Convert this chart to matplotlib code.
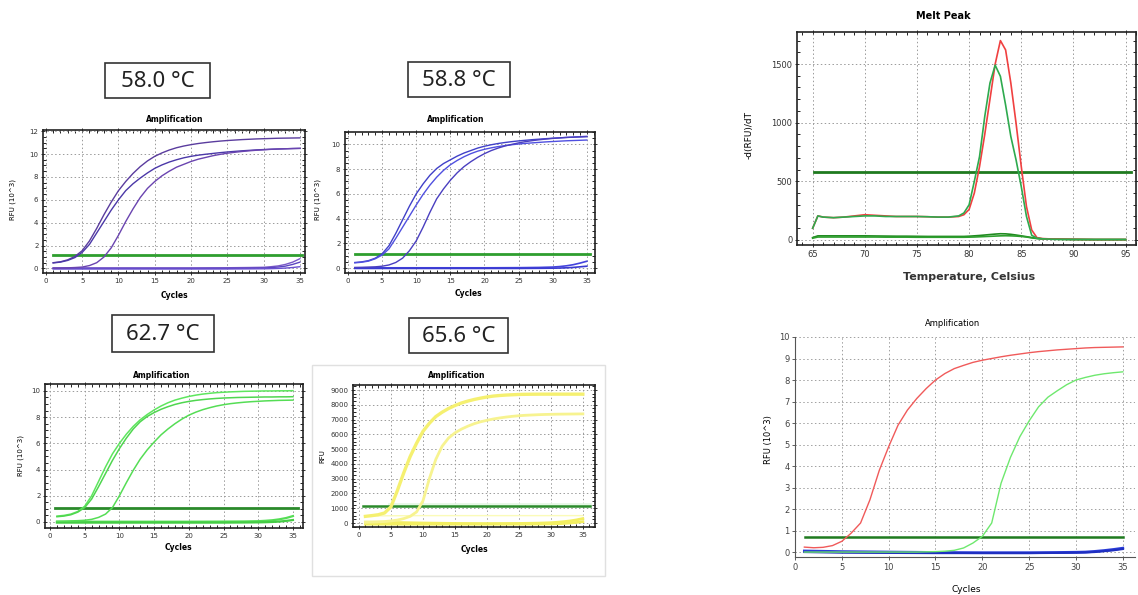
import matplotlib
matplotlib.use('Agg')
import matplotlib.pyplot as plt
from matplotlib.patches import Rectangle
from matplotlib.ticker import MultipleLocator

# ---- data ----
cycles = list(range(1, 36))
base_cycles = [1, 5, 10, 15, 20, 25, 28, 30, 31, 32, 33, 34, 35]

# 58.0 C
p1_a = [0.50, 0.58, 0.75, 1.05, 1.55, 2.4, 3.5, 4.7, 5.8, 6.8, 7.6, 8.3, 8.9, 9.4, 9.8, 10.1, 10.35, 10.55,
        10.7, 10.82, 10.92, 11.0, 11.07, 11.13, 11.18, 11.22, 11.26, 11.29, 11.32, 11.34, 11.36, 11.38, 11.39, 11.4, 11.41]
p1_b = [0.48, 0.55, 0.7, 0.95, 1.4, 2.1, 3.1, 4.1, 5.1, 6.0, 6.8, 7.4, 7.9, 8.35, 8.75, 9.05, 9.3, 9.5,
        9.67, 9.8, 9.9, 9.98, 10.05, 10.12, 10.18, 10.23, 10.28, 10.32, 10.36, 10.39, 10.42, 10.44, 10.46, 10.48, 10.49]
p1_c = [0.02, 0.03, 0.05, 0.08, 0.12, 0.25, 0.5, 1.0, 1.8, 2.9, 4.1, 5.2, 6.2, 7.0, 7.6, 8.1, 8.5, 8.85,
        9.1, 9.35, 9.55, 9.7, 9.85, 9.97, 10.07, 10.15, 10.22, 10.28, 10.33, 10.37, 10.41, 10.44, 10.46, 10.48, 10.5]
p1_base1 = [0.05, 0.05, 0.05, 0.05, 0.05, 0.06, 0.08, 0.1, 0.15, 0.22, 0.35, 0.55, 0.85]
p1_base2 = [0.0, 0.0, 0.0, 0.0, 0.0, 0.01, 0.02, 0.04, 0.07, 0.12, 0.2, 0.35, 0.55]
p1_base3 = [-0.05, -0.05, -0.05, -0.05, -0.05, -0.05, -0.04, -0.03, -0.02, 0.0, 0.03, 0.08, 0.15]
p1_thr = 1.15

# 58.8 C
p2_a = [0.45, 0.5, 0.6, 0.8, 1.15, 1.8, 2.8, 3.9, 5.0, 6.0, 6.8, 7.5, 8.05, 8.45, 8.75, 9.05, 9.3, 9.5,
        9.7, 9.85, 9.97, 10.07, 10.15, 10.22, 10.28, 10.33, 10.38, 10.42, 10.46, 10.5, 10.53, 10.56, 10.58, 10.6, 10.62]
p2_b = [0.42, 0.47, 0.56, 0.75, 1.05, 1.55, 2.4, 3.3, 4.2, 5.1, 5.95, 6.7, 7.35, 7.9, 8.35, 8.7, 9.0, 9.25,
        9.45, 9.6, 9.72, 9.82, 9.9, 9.97, 10.03, 10.08, 10.12, 10.16, 10.2, 10.23, 10.26, 10.29, 10.31, 10.33, 10.35]
p2_c = [0.05, 0.06, 0.08, 0.1, 0.15, 0.25, 0.45, 0.8, 1.4, 2.2, 3.3, 4.5, 5.6, 6.4, 7.1, 7.7, 8.2, 8.6,
        8.95, 9.25, 9.5, 9.7, 9.87, 10.0, 10.12, 10.22, 10.3, 10.37, 10.43, 10.48, 10.52, 10.56, 10.59, 10.62, 10.65]
p2_base1 = [0.02, 0.02, 0.02, 0.02, 0.02, 0.03, 0.05, 0.08, 0.12, 0.18, 0.27, 0.4, 0.55]
p2_base2 = [-0.03, -0.03, -0.03, -0.03, -0.03, -0.03, -0.02, -0.01, 0.0, 0.02, 0.05, 0.1, 0.15]
p2_thr = 1.15

# 62.7 C
p3_a = [0.45, 0.5, 0.6, 0.8, 1.2, 2.0, 3.1, 4.2, 5.2, 6.0, 6.7, 7.3, 7.8, 8.2, 8.55, 8.85, 9.1, 9.3,
        9.45, 9.58, 9.68, 9.76, 9.82, 9.87, 9.9, 9.93, 9.95, 9.97, 9.98, 9.99, 10.0, 10.0, 10.01, 10.01, 10.02]
p3_b = [0.4, 0.45, 0.55, 0.75, 1.1, 1.75, 2.7, 3.7, 4.7, 5.6, 6.4, 7.1, 7.65, 8.05, 8.35, 8.6, 8.8, 8.97,
        9.1, 9.2, 9.28, 9.34, 9.39, 9.43, 9.46, 9.48, 9.5, 9.51, 9.52, 9.53, 9.54, 9.54, 9.55, 9.55, 9.56]
p3_c = [0.05, 0.06, 0.08, 0.1, 0.13, 0.2, 0.35, 0.6, 1.1, 2.0, 3.0, 3.95, 4.8, 5.5, 6.1, 6.65, 7.1, 7.5,
        7.85, 8.15, 8.38, 8.57, 8.72, 8.85, 8.95, 9.03, 9.09, 9.14, 9.18, 9.21, 9.24, 9.26, 9.28, 9.29, 9.3]
p3_base1 = [0.02, 0.02, 0.02, 0.02, 0.02, 0.03, 0.04, 0.06, 0.09, 0.13, 0.2, 0.3, 0.45]
p3_base2 = [-0.05, -0.05, -0.05, -0.05, -0.05, -0.05, -0.04, -0.03, -0.02, 0.0, 0.03, 0.08, 0.15]
p3_thr = 1.07

# 65.6 C
p4_a = [450, 500, 560, 680, 1100, 2200, 3400, 4500, 5400, 6200, 6750, 7200, 7500, 7750, 7950, 8120, 8250, 8360,
        8450, 8530, 8590, 8630, 8660, 8680, 8700, 8710, 8715, 8718, 8720, 8720, 8720, 8720, 8720, 8720, 8720]
p4_b = [50, 60, 80, 100, 140, 200, 300, 450, 750, 1500, 3000, 4300, 5200, 5750, 6100, 6350, 6550, 6720,
        6850, 6950, 7040, 7110, 7170, 7220, 7260, 7290, 7310, 7330, 7345, 7355, 7365, 7370, 7375, 7380, 7385]
p4_base1 = [60, 40, 0, -30, -40, -30, -10, 20, 50, 90, 140, 210, 300]
p4_base2 = [-80, -80, -80, -80, -80, -80, -70, -60, -50, -30, 0, 40, 90]
p4_base3 = [480, 490, 500, 500, 500, 500, 500, 500, 500, 500, 500, 500, 500]
p4_thr = 1120

# melt peak
temps = [65, 65.5, 66, 67, 68, 69, 70, 71, 72, 73, 74, 75, 76, 77, 78, 79, 79.5, 80, 80.5, 81, 81.5,
         82, 82.5, 83, 83.5, 84, 84.5, 85, 85.5, 86, 86.5, 87, 88, 90, 92, 95]
melt_red = [100, 205, 195, 190, 195, 205, 215, 210, 205, 200, 200, 200, 198, 195, 195, 200, 215, 260, 400, 626,
            900, 1200, 1500, 1700, 1620, 1338, 996, 626, 285, 85, 20, 12, 8, 5, 3, 3]
melt_green = [100, 205, 195, 190, 195, 200, 205, 205, 200, 200, 200, 200, 198, 195, 195, 205, 230, 300, 500, 711,
              1053, 1338, 1490, 1395, 1150, 882, 683, 455, 200, 40, 15, 10, 6, 4, 3, 3]
melt_base1 = [20, 35, 35, 35, 35, 35, 35, 34, 33, 32, 32, 31, 30, 30, 30, 30, 30, 32, 35, 38,
              42, 46, 50, 53, 52, 48, 42, 35, 28, 20, 14, 10, 7, 5, 4, 4]
melt_base2 = [15, 25, 25, 25, 25, 25, 25, 25, 24, 24, 24, 23, 23, 23, 23, 23, 23, 24, 25, 27,
              29, 31, 33, 35, 36, 35, 33, 30, 25, 18, 12, 9, 6, 4, 3, 3]
melt_thr = 578

# final amplification
p6_red = [0.23, 0.2, 0.22, 0.3, 0.5, 0.88, 1.35, 2.43, 3.8, 4.9, 5.9, 6.6, 7.14, 7.6, 8.0, 8.3, 8.53, 8.68,
          8.82, 8.92, 9.0, 9.08, 9.15, 9.21, 9.27, 9.32, 9.36, 9.4, 9.43, 9.46, 9.49, 9.51, 9.52, 9.53, 9.54]
p6_green = [0.0, 0.0, 0.0, 0.0, 0.0, 0.0, 0.0, 0.0, 0.0, 0.0, 0.0, 0.0, 0.0, 0.01, 0.02, 0.04, 0.08, 0.19,
            0.42, 0.73, 1.35, 3.2, 4.4, 5.36, 6.1, 6.75, 7.2, 7.5, 7.78, 8.0, 8.12, 8.22, 8.29, 8.34, 8.38]
p6_blue1 = [0.05, 0.02, 0.0, -0.02, -0.03, -0.03, -0.02, -0.01, 0.0, 0.03, 0.07, 0.12, 0.18]
p6_blue2 = [0.0, -0.03, -0.04, -0.05, -0.05, -0.05, -0.04, -0.03, -0.02, 0.0, 0.04, 0.08, 0.14]
p6_thr = 0.7

labels = ['58.0 °C', '58.8 °C', '62.7 °C', '65.6 °C']

W, H = 1138, 595
fig = plt.figure(figsize=(W / 100, H / 100), dpi=100)
fig.patch.set_facecolor('white')


def px_axes(l, t, r, b):
    return fig.add_axes([l / W, 1 - b / H, (r - l) / W, (b - t) / H])


def ftext(x, y, s, **kw):
    fig.text(x / W, 1 - y / H, s, ha='center', va='center', **kw)


def cfx_style(ax, xlim, ylim, xstep, ystep, xminor, yminor, fs=5):
    ax.set_xlim(xlim)
    ax.set_ylim(ylim)
    ax.xaxis.set_major_locator(MultipleLocator(xstep))
    ax.yaxis.set_major_locator(MultipleLocator(ystep))
    ax.xaxis.set_minor_locator(MultipleLocator(xminor))
    ax.yaxis.set_minor_locator(MultipleLocator(yminor))
    ax.grid(True, which='major', linestyle=(0, (1.5, 2.5)), color='#9a9a9a', linewidth=0.7)
    ax.tick_params(which='major', labelsize=fs, length=2.5, width=0.7, pad=2, colors='#333333',
                   top=True, right=True, direction='inout')
    ax.tick_params(which='minor', length=2, width=0.6, top=True, right=True, direction='in')
    for s in ax.spines.values():
        s.set_linewidth(1.2)
        s.set_color('#222222')
    ax.set_axisbelow(True)


# faint frame behind the 65.6 panel
fig.add_artist(Rectangle((312 / W, 1 - 576 / H), 293 / W, 211 / H, transform=fig.transFigure,
                         fill=False, edgecolor='#e0e0e0', linewidth=1))

# ---- panel 1: 58.0 ----
ax1 = px_axes(43, 130, 305, 273)
cfx_style(ax1, (-0.4, 35.7), (-0.4, 12.1), 5, 2, 1, 0.5)
for y, c in [(p1_base1, '#7a58c8'), (p1_base2, '#5b45c0'), (p1_base3, '#6a4fd0')]:
    ax1.plot(base_cycles, y, color=c, linewidth=1)
ax1.axhline(p1_thr, xmin=0.04, xmax=0.99, color='#2e9e2e', linewidth=2)
ax1.plot(cycles, p1_a, color='#5a3c9e', linewidth=1)
ax1.plot(cycles, p1_b, color='#4b38a8', linewidth=1)
ax1.plot(cycles, p1_c, color='#6a44b0', linewidth=1)
ftext(175, 120, 'Amplification', fontsize=5.5, fontweight='bold')
ftext(174, 296, 'Cycles', fontsize=5.5, fontweight='bold')
ftext(13, 200, 'RFU (10^3)', fontsize=5, rotation=90)

# ---- panel 2: 58.8 ----
ax2 = px_axes(345, 132, 595, 273)
cfx_style(ax2, (-0.44, 36.2), (-0.4, 11.0), 5, 2, 1, 0.5)
for y, c in [(p2_base1, '#4444dd'), (p2_base2, '#3a3ad0')]:
    ax2.plot(base_cycles, y, color=c, linewidth=1.2)
ax2.axhline(p2_thr, xmin=0.04, xmax=0.98, color='#2e9e2e', linewidth=2)
ax2.plot(cycles, p2_a, color='#4040c8', linewidth=1)
ax2.plot(cycles, p2_b, color='#5050e0', linewidth=1)
ax2.plot(cycles, p2_c, color='#4a3fc0', linewidth=1)
ftext(456, 120, 'Amplification', fontsize=5.5, fontweight='bold')
ftext(468, 293, 'Cycles', fontsize=5.5, fontweight='bold')
ftext(318, 200, 'RFU (10^3)', fontsize=5, rotation=90)

# ---- panel 3: 62.7 ----
ax3 = px_axes(45, 384, 303, 528)
cfx_style(ax3, (-0.72, 36.45), (-0.46, 10.53), 5, 2, 1, 0.5)
for y, c in [(p3_base1, '#55dd55'), (p3_base2, '#44cc44')]:
    ax3.plot(base_cycles, y, color=c, linewidth=1.6)
ax3.axhline(p3_thr, xmin=0.04, xmax=0.98, color='#2a8a2a', linewidth=2)
ax3.plot(cycles, p3_a, color='#5ee65e', linewidth=1.1)
ax3.plot(cycles, p3_b, color='#4fd64f', linewidth=1.1)
ax3.plot(cycles, p3_c, color='#55dd55', linewidth=1.1)
ftext(162, 375, 'Amplification', fontsize=5.5, fontweight='bold')
ftext(178, 548, 'Cycles', fontsize=5.5, fontweight='bold')
ftext(21, 456, 'RFU (10^3)', fontsize=5, rotation=90)

# ---- panel 4: 65.6 ----
ax4 = px_axes(353, 385, 595, 527)
cfx_style(ax4, (-0.94, 36.9), (-270, 9340), 5, 1000, 1, 250)
ax4.plot(base_cycles, p4_base3, color='#fbfbb8', linewidth=1)
for y in [p4_base1, p4_base2]:
    ax4.plot(base_cycles, y, color='#f2ee60', linewidth=2)
ax4.axhline(1300, xmin=0.15, xmax=0.98, color='#e6f8e6', linewidth=2)
ax4.axhline(p4_thr, xmin=0.04, xmax=0.98, color='#2a8a2a', linewidth=1.8)
ax4.plot(cycles, p4_a, color='#f5f070', linewidth=2.4)
ax4.plot(cycles, p4_b, color='#f7f390', linewidth=2.0)
ftext(457, 376, 'Amplification', fontsize=5.5, fontweight='bold')
ftext(474, 550, 'Cycles', fontsize=5.5, fontweight='bold')
ftext(322, 456, 'RFU', fontsize=5, rotation=90)

# ---- panel 5: melt peak ----
ax5 = px_axes(797, 32, 1136, 245)
cfx_style(ax5, (63.5, 96), (-43, 1773), 5, 500, 1, 100, fs=6)
ax5.axhline(melt_thr, xmin=0.05, xmax=0.985, color='#1f7a1f', linewidth=2)
ax5.plot(temps, melt_base1, color='#1f8a1f', linewidth=1.2)
ax5.plot(temps, melt_base2, color='#2e9e2e', linewidth=1.2)
ax5.plot(temps, melt_red, color='#f04040', linewidth=1.2)
ax5.plot(temps, melt_green, color='#2eaa4e', linewidth=1.2)
ftext(943, 16, 'Melt Peak', fontsize=7, fontweight='bold')
ftext(969, 277, 'Temperature, Celsius', fontsize=8, fontweight='bold', color='#333333')
ftext(749, 135, '-d(RFU)/dT', fontsize=6.5, rotation=90)

# ---- panel 6: amplification red / green ----
ax6 = px_axes(795, 337, 1135, 557)
ax6.set_xlim(0, 36.3)
ax6.set_ylim(-0.23, 10)
ax6.xaxis.set_major_locator(MultipleLocator(5))
ax6.yaxis.set_major_locator(MultipleLocator(1))
ax6.grid(True, linestyle=(0, (1.5, 2.5)), color='#a0a0a0', linewidth=0.7)
ax6.tick_params(labelsize=6, length=2, width=0.6, colors='#444444', pad=2)
for s in ['top', 'right']:
    ax6.spines[s].set_visible(False)
for s in ['left', 'bottom']:
    ax6.spines[s].set_color('#555555')
    ax6.spines[s].set_linewidth(0.8)
ax6.set_axisbelow(True)
ax6.axhline(p6_thr, xmin=0.03, xmax=0.965, color='#1f7a1f', linewidth=1.8)
ax6.plot(base_cycles, p6_blue1, color='#2a3cd8', linewidth=2)
ax6.plot(base_cycles, p6_blue2, color='#1f2fc0', linewidth=1.5)
ax6.plot(cycles, p6_red, color='#f05a5a', linewidth=1)
ax6.plot(cycles, p6_green, color='#6ee86e', linewidth=1)
ftext(953, 324, 'Amplification', fontsize=6)
ftext(966, 590, 'Cycles', fontsize=6.5)
ftext(768, 440, 'RFU (10^3)', fontsize=6, rotation=90)

# ---- temperature label boxes ----
boxes = [(105, 63, 210, 98), (408, 62, 510, 97), (112, 315, 214, 352), (409, 318, 508, 353)]
for (l, t, r, b), s in zip(boxes, labels):
    fig.add_artist(Rectangle((l / W, 1 - b / H), (r - l) / W, (b - t) / H, transform=fig.transFigure,
                             facecolor='white', edgecolor='#333333', linewidth=1.2))
    ftext((l + r) / 2, (t + b) / 2 + 1, s, fontsize=16, family='Noto Sans', color='#222222')

fig.savefig('out.png', dpi=100)
